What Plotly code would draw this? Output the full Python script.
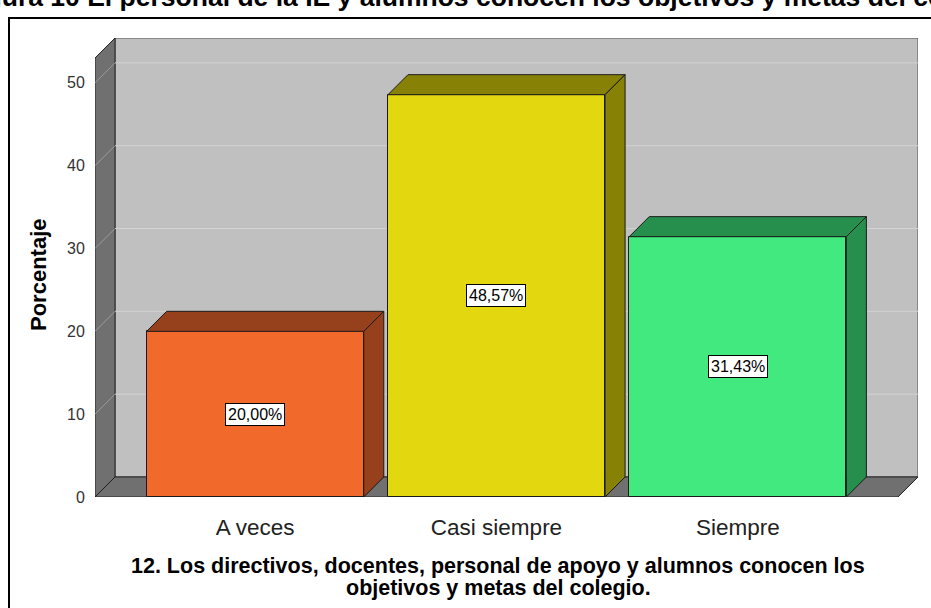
import plotly.graph_objects as go

# Datos del gráfico
categorias = ["A veces", "Casi siempre", "Siempre"]
porcentajes = [20.00, 48.57, 31.43]
etiquetas = ["20,00%", "48,57%", "31,43%"]
colores_frente = ["#F2692C", "#E3D710", "#42E97E"]
colores_lado = ["#96401C", "#878205", "#268F4E"]
marcas_y = [0, 10, 20, 30, 40, 50]

titulo_figura = "Figura 10 El personal de la IE y alumnos conocen los objetivos y metas del colegio"
titulo_x_1 = "12. Los directivos, docentes, personal de apoyo y alumnos conocen los"
titulo_x_2 = "objetivos y metas del colegio."
titulo_y = "Porcentaje"

FUENTE = "Arial, Liberation Sans, sans-serif"

# Efecto 3D (profundidad en unidades de datos)
ancho = 0.9
dx = 0.083
dy = 2.42
x_izq = -0.664
x_der_frente = 2.664
x_der = x_der_frente + dx
y_tope_frente = 53.0
y_tope = y_tope_frente + dy

fig = go.Figure()

# Paredes del gráfico (fondo, pared izquierda y piso)
formas = []
formas.append(dict(type="rect", xref="x", yref="y", x0=x_izq + dx, x1=x_der, y0=dy, y1=y_tope,
                   fillcolor="#C0C0C0", line=dict(color="#505050", width=1), layer="below"))
formas.append(dict(type="path", xref="x", yref="y",
                   path=f"M {x_izq},0 L {x_izq},{y_tope_frente} L {x_izq + dx},{y_tope} L {x_izq + dx},{dy} Z",
                   fillcolor="#707070", line=dict(color="#222222", width=1), layer="below"))
formas.append(dict(type="path", xref="x", yref="y",
                   path=f"M {x_izq},0 L {x_der_frente},0 L {x_der},{dy} L {x_izq + dx},{dy} Z",
                   fillcolor="#707070", line=dict(color="#222222", width=1), layer="below"))
for v in marcas_y[1:]:
    formas.append(dict(type="line", xref="x", yref="y", x0=x_izq + dx, x1=x_der, y0=v + dy, y1=v + dy,
                       line=dict(color="#D2D2D2", width=1), layer="below"))
    formas.append(dict(type="line", xref="x", yref="y", x0=x_izq, x1=x_izq + dx, y0=v, y1=v + dy,
                       line=dict(color="#9C9C9C", width=1), layer="below"))

# Marco exterior
formas.append(dict(type="path", xref="paper", yref="paper",
                   path="M -0.1045,-0.4 L -0.1045,1.0436 L 1.2,1.0436",
                   line=dict(color="#000000", width=2)))

# Caras frontales de las barras
fig.add_trace(go.Bar(x=list(range(len(categorias))), y=porcentajes, width=ancho,
                     marker=dict(color=colores_frente, line=dict(color="#1a1a1a", width=1)),
                     hoverinfo="skip", showlegend=False))

# Caras superior y lateral de cada barra
for i, v in enumerate(porcentajes):
    xa = i - ancho / 2
    xb = i + ancho / 2
    fig.add_trace(go.Scatter(x=[xa, xa + dx, xb + dx, xb, xa], y=[v, v + dy, v + dy, v, v],
                             mode="lines", fill="toself", fillcolor=colores_lado[i],
                             line=dict(color="#1a1a1a", width=1), hoverinfo="skip", showlegend=False))
    fig.add_trace(go.Scatter(x=[xb, xb, xb + dx, xb + dx, xb], y=[0, v, v + dy, dy, 0],
                             mode="lines", fill="toself", fillcolor=colores_lado[i],
                             line=dict(color="#1a1a1a", width=1), hoverinfo="skip", showlegend=False))

# Etiquetas de porcentaje
anotaciones = []
for i, v in enumerate(porcentajes):
    anotaciones.append(dict(x=i, y=v / 2, xref="x", yref="y", text=etiquetas[i], showarrow=False,
                            font=dict(family=FUENTE, size=16, color="#000000"),
                            bgcolor="#FFFFFF", bordercolor="#000000", borderwidth=1, borderpad=2))

# Títulos
anotaciones.append(dict(x=0.4897, y=-0.1495, xref="paper", yref="paper", text=f"<b>{titulo_x_1}</b>",
                        showarrow=False, xanchor="center", yanchor="middle",
                        font=dict(family=FUENTE, size=21.5, color="#000000")))
anotaciones.append(dict(x=0.4897, y=-0.198, xref="paper", yref="paper", text=f"<b>{titulo_x_2}</b>",
                        showarrow=False, xanchor="center", yanchor="middle",
                        font=dict(family=FUENTE, size=21.5, color="#000000")))
anotaciones.append(dict(x=-0.068, y=0.4837, xref="paper", yref="paper", text=f"<b>{titulo_y}</b>",
                        showarrow=False, textangle=-90, xanchor="center", yanchor="middle",
                        font=dict(family=FUENTE, size=22, color="#000000")))
anotaciones.append(dict(x=-0.164, y=1.052, xref="paper", yref="paper", text=f"<b>{titulo_figura}</b>",
                        showarrow=False, xanchor="left", yanchor="bottom",
                        font=dict(family=FUENTE, size=26.5, color="#000000")))

fig.update_layout(
    width=931, height=608,
    margin=dict(l=95, r=13, t=38, b=111),
    paper_bgcolor="#FFFFFF", plot_bgcolor="#FFFFFF",
    shapes=formas, annotations=anotaciones,
    bargap=0,
    xaxis=dict(range=[x_izq, x_der], tickvals=list(range(len(categorias))), ticktext=categorias,
               showgrid=False, zeroline=False, showline=False,
               ticks="outside", ticklen=10, tickcolor="rgba(0,0,0,0)",
               tickfont=dict(family=FUENTE, size=22.5, color="#222222")),
    yaxis=dict(range=[0, y_tope], tickvals=marcas_y, showgrid=False, zeroline=False, showline=False,
               ticks="outside", ticklen=6, tickcolor="rgba(0,0,0,0)",
               tickfont=dict(family=FUENTE, size=16, color="#333333")),
)

fig.write_html("out.html", config={"displayModeBar": False},
               post_script="document.body.style.margin='0px';")
